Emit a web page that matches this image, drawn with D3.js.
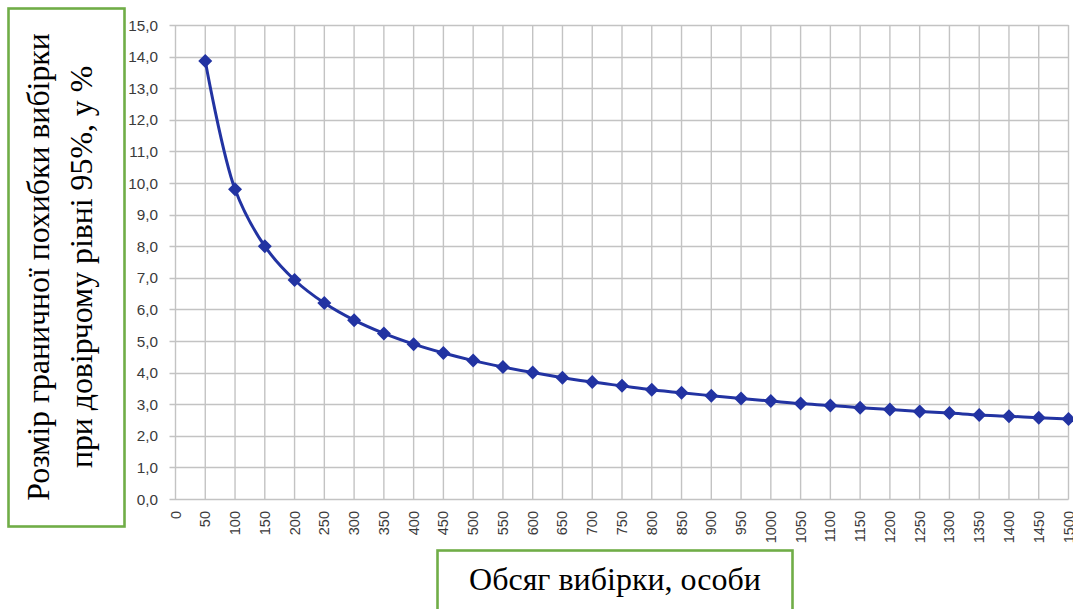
<!DOCTYPE html>
<html>
<head>
<meta charset="utf-8">
<script src="https://cdn.jsdelivr.net/npm/d3@7"></script>
<style>
html,body{margin:0;padding:0;background:#fff;}
svg{display:block;}
.serif{font-family:"Liberation Serif","Times New Roman",serif;}
.sans{font-family:"Liberation Sans",Arial,sans-serif;}
</style>
</head>
<body>
<svg id="chart" width="1073" height="609"></svg>
<script>
// ---- data ----
const sampleSizes = [50,100,150,200,250,300,350,400,450,500,550,600,650,700,750,800,850,900,950,1000,1050,1100,1150,1200,1250,1300,1350,1400,1450,1500];
const marginError = [13.86,9.80,8.00,6.93,6.20,5.66,5.24,4.90,4.62,4.38,4.18,4.00,3.84,3.70,3.58,3.46,3.36,3.27,3.18,3.10,3.02,2.96,2.89,2.83,2.77,2.72,2.66,2.62,2.57,2.53];
const xTickValues = [0,50,100,150,200,250,300,350,400,450,500,550,600,650,700,750,800,850,900,950,1000,1050,1100,1150,1200,1250,1300,1350,1400,1450,1500];
const yTickValues = [0,1,2,3,4,5,6,7,8,9,10,11,12,13,14,15];
const yTitleLines = ["Розмір граничної похибки вибірки","при довірчому рівні 95%, у %"];
const xTitle = "Обсяг вибірки, особи";

const svg = d3.select("#chart");
const plot = {left:175.5, right:1068.5, top:25, bottom:499};

const x = d3.scaleLinear().domain([0,1500]).range([plot.left, plot.right]);
const y = d3.scaleLinear().domain([0,15]).range([plot.bottom, plot.top]);

const gridColor = "#c3c3c3";
// horizontal gridlines
svg.append("g").selectAll("line").data(yTickValues).join("line")
  .attr("x1", plot.left - 6).attr("x2", plot.right)
  .attr("y1", d => Math.round(y(d)) + 0.5).attr("y2", d => Math.round(y(d)) + 0.5)
  .attr("stroke", gridColor).attr("stroke-width", 1.4);
// vertical gridlines
svg.append("g").selectAll("line").data(xTickValues).join("line")
  .attr("y1", plot.top).attr("y2", plot.bottom + 0.5)
  .attr("x1", d => x(d)).attr("x2", d => x(d))
  .attr("stroke", gridColor).attr("stroke-width", 1.4);

// y tick labels
svg.append("g").selectAll("text").data(yTickValues).join("text")
  .attr("class", "sans")
  .attr("x", 158).attr("y", d => y(d))
  .attr("text-anchor", "end").attr("dominant-baseline", "central")
  .attr("font-size", 15.3).attr("fill", "#3a3a3a")
  .text(d => d3.format(".1f")(d).replace(".", ","));

// x tick labels (rotated)
svg.append("g").selectAll("text").data(xTickValues).join("text")
  .attr("class", "sans")
  .attr("transform", d => `translate(${x(d)},511) rotate(-90)`)
  .attr("text-anchor", "end").attr("dominant-baseline", "central")
  .attr("font-size", 14.5).attr("fill", "#3a3a3a")
  .text(d => d);

// line
const pts = sampleSizes.map((s,i) => [s, marginError[i]]);
const lineColor = "#2233a2";
svg.append("path").datum(pts)
  .attr("fill", "none").attr("stroke", lineColor).attr("stroke-width", 3)
  .attr("d", d3.line().x(d => x(d[0])).y(d => y(d[1])).curve(d3.curveCatmullRom.alpha(0.5)));

// markers
svg.append("g").selectAll("path").data(pts).join("path")
  .attr("transform", d => `translate(${x(d[0])},${y(d[1])})`)
  .attr("d", "M0,-7L7,0L0,7L-7,0Z")
  .attr("fill", lineColor);

// y title box
const green = "#70ad47";
svg.append("rect").attr("x", 8.5).attr("y", 8.5).attr("width", 116).attr("height", 518)
  .attr("fill", "#fff").attr("stroke", green).attr("stroke-width", 2.6);
const yt = svg.append("text")
  .attr("class", "serif")
  .attr("transform", "translate(49,267) rotate(-90)")
  .attr("text-anchor", "middle")
  .attr("font-size", 31.8).attr("fill", "#000");
yt.selectAll("tspan").data(yTitleLines).join("tspan")
  .attr("x", 0).attr("dy", (d,i) => i === 0 ? 0 : 43)
  .text(d => d);

// x title box
svg.append("rect").attr("x", 437.5).attr("y", 550.5).attr("width", 355).attr("height", 80)
  .attr("fill", "#fff").attr("stroke", green).attr("stroke-width", 2.6);
svg.append("text").attr("class", "serif").attr("x", 615).attr("y", 590)
  .attr("text-anchor", "middle")
  .attr("font-size", 32).attr("fill", "#000")
  .text(xTitle);
</script>
</body>
</html>
